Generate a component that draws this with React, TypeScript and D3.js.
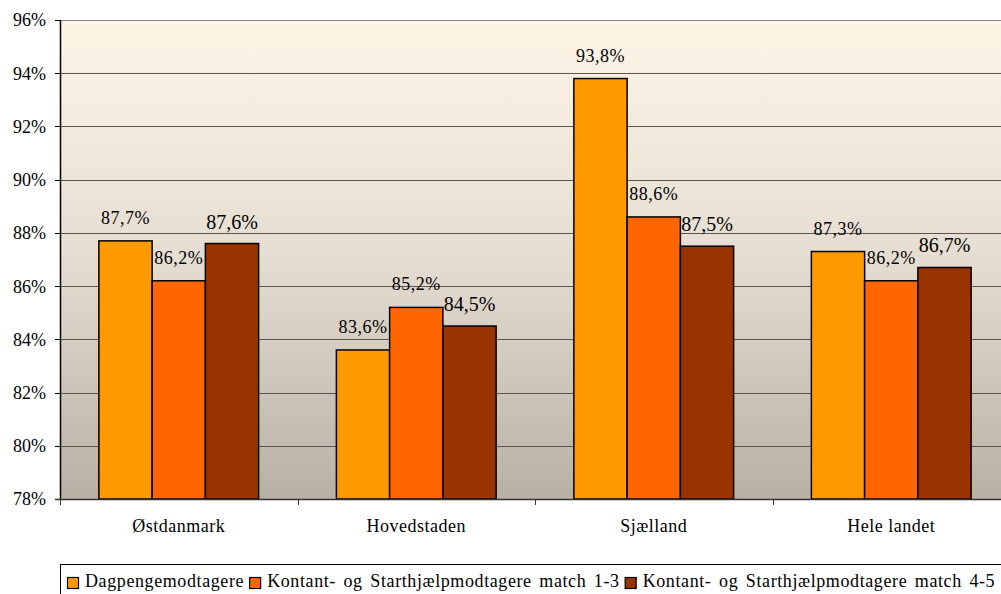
import React, { useEffect, useRef } from "react";
import * as d3 from "d3";

const categories = ["Østdanmark", "Hovedstaden", "Sjælland", "Hele landet"];
const seriesNames = [
  "Dagpengemodtagere",
  "Kontant- og Starthjælpmodtagere match 1-3",
  "Kontant- og Starthjælpmodtagere match 4-5",
];
const dagpenge = [87.7, 83.6, 93.8, 87.3];
const kontant13 = [86.2, 85.2, 88.6, 86.2];
const kontant45 = [87.6, 84.5, 87.5, 86.7];
const yTicks = [78, 80, 82, 84, 86, 88, 90, 92, 94, 96];
const seriesColors = ["#FF9900", "#FF6600", "#993300"];

const FONT = "Liberation Serif, Times New Roman, Times, DejaVu Serif, serif";

export default function App() {
  const ref = useRef<SVGSVGElement>(null);

  useEffect(() => {
    const svg = d3.select(ref.current);
    svg.selectAll("*").remove();
    const W = 1001, H = 594;
    const m = { left: 60, top: 20, right: -9, bottom: 95 };
    const x0 = m.left, x1 = W - m.right;
    const yTop = m.top, yBot = H - m.bottom;

    const allSeries = [dagpenge, kontant13, kontant45];

    const defs = svg.append("defs");
    const grad = defs.append("linearGradient").attr("id", "bg").attr("x1", 0).attr("y1", 0).attr("x2", 0).attr("y2", 1);
    grad.append("stop").attr("offset", "0%").attr("stop-color", "#FEF5E7");
    grad.append("stop").attr("offset", "50%").attr("stop-color", "#E5DDD1");
    grad.append("stop").attr("offset", "100%").attr("stop-color", "#B8B0A4");

    const y = d3.scaleLinear().domain([78, 96]).range([yBot, yTop]);
    const xBand = d3.scaleBand<string>().domain(categories).range([x0, x1]).paddingInner(0).paddingOuter(0);
    const inner = d3.scaleBand<number>().domain([0, 1, 2]).range([0, xBand.bandwidth()]).paddingOuter(0.73).paddingInner(0);

    svg.append("rect").attr("x", x0).attr("y", yTop).attr("width", x1 - x0).attr("height", yBot - yTop).attr("fill", "url(#bg)");

    // gridlines
    svg.append("g").selectAll("line").data(yTicks.filter((t) => t !== 78)).join("line")
      .attr("x1", x0).attr("x2", x1)
      .attr("y1", (d) => Math.round(y(d)) + 0.5).attr("y2", (d) => Math.round(y(d)) + 0.5)
      .attr("stroke", (d) => (d === 96 ? "#8a8580" : "#5a5550")).attr("stroke-width", 1);

    // bars
    const g = svg.append("g");
    allSeries.forEach((vals, si) => {
      g.selectAll(`rect.s${si}`).data(vals).join("rect")
        .attr("class", `s${si}`)
        .attr("x", (_, i) => xBand(categories[i])! + inner(si)!)
        .attr("y", (d) => y(d))
        .attr("width", inner.bandwidth())
        .attr("height", (d) => yBot - y(d))
        .attr("fill", seriesColors[si])
        .attr("stroke", "#000").attr("stroke-width", 1.5);
    });

    // value labels
    allSeries.forEach((vals, si) => {
      const big = si === 2;
      g.selectAll(`text.l${si}`).data(vals).join("text")
        .attr("class", `l${si}`)
        .attr("x", (_, i) => xBand(categories[i])! + inner(si)! + inner.bandwidth() / 2)
        .attr("y", (d) => y(d) - (big ? 15 : 17))
        .attr("text-anchor", "middle")
        .style("font-family", FONT)
        .attr("font-size", big ? 20 : 18)
        .attr("letter-spacing", big ? 0 : 0.5)
        .attr("fill", "#000")
        .text((d) => d.toFixed(1).replace(".", ",") + "%");
    });

    // y axis
    svg.append("line").attr("x1", x0 + 0.5).attr("x2", x0 + 0.5).attr("y1", yTop).attr("y2", yBot).attr("stroke", "#000").attr("stroke-width", 1.5);
    const ya = svg.append("g");
    ya.selectAll("line").data(yTicks).join("line")
      .attr("x1", x0 - 5).attr("x2", x0)
      .attr("y1", (d) => Math.round(y(d)) + 0.5).attr("y2", (d) => Math.round(y(d)) + 0.5)
      .attr("stroke", "#000");
    ya.selectAll("text").data(yTicks).join("text")
      .attr("x", x0 - 14).attr("y", (d) => y(d)).attr("dy", "0.36em")
      .attr("text-anchor", "end").style("font-family", FONT).attr("font-size", 18).attr("fill", "#000")
      .text((d) => `${d}%`);

    // x axis
    svg.append("line").attr("x1", x0 - 5).attr("x2", x1).attr("y1", yBot + 0.5).attr("y2", yBot + 0.5).attr("stroke", "#333").attr("stroke-width", 1.5);
    const bounds = categories.map((c) => xBand(c)!);
    svg.append("g").selectAll("line").data(bounds).join("line")
      .attr("x1", (d) => Math.round(d) + 0.5).attr("x2", (d) => Math.round(d) + 0.5)
      .attr("y1", yBot).attr("y2", yBot + 6).attr("stroke", "#333");
    svg.append("g").selectAll("text").data(categories).join("text")
      .attr("x", (d) => xBand(d)! + xBand.bandwidth() / 2).attr("y", 532)
      .attr("text-anchor", "middle").style("font-family", FONT).attr("font-size", 18)
      .attr("letter-spacing", 0.5).attr("fill", "#000")
      .text((d) => d);

    // legend
    const lg = svg.append("g");
    lg.append("rect").attr("x", x0 + 0.5).attr("y", 564.5).attr("width", 1000).attr("height", 60)
      .attr("fill", "#fff").attr("stroke", "#000").attr("stroke-width", 1);
    let cx = 67;
    seriesNames.forEach((name, si) => {
      lg.append("rect").attr("x", cx + 0.5).attr("y", 577.5).attr("width", 11).attr("height", 11)
        .attr("fill", seriesColors[si]).attr("stroke", "#000").attr("stroke-width", 1.2);
      const t = lg.append("text").attr("x", cx + 18).attr("y", 587)
        .style("font-family", FONT).attr("font-size", 18).attr("letter-spacing", 0.6)
        .attr("word-spacing", 2.5).attr("fill", "#000")
        .text(name);
      const len = (t.node() as SVGTextElement).getComputedTextLength();
      cx = cx + 18 + len + 5;
    });
  }, []);

  return (
    <svg ref={ref} width={1001} height={594} style={{ position: "absolute", left: 0, top: 0, display: "block" }} />
  );
}
